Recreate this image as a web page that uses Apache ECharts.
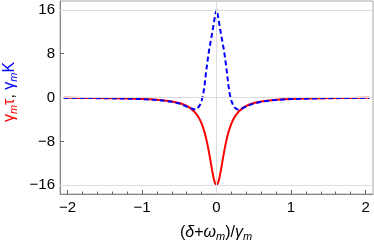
<!DOCTYPE html>
<html><head><meta charset="utf-8">
<script src="https://cdn.jsdelivr.net/npm/echarts@6/dist/echarts.min.js"></script>
<style>html,body{margin:0;padding:0;background:#fff}#c{width:374px;height:245px}</style>
</head><body><div id="c"></div>
<script>
const xValues = [-2.05,-2,-1.8,-1.6,-1.4,-1.2,-1,-0.9,-0.8,-0.7,-0.6,-0.5,-0.45,-0.4,-0.35,-0.3,-0.28,-0.26,-0.24,-0.22,-0.2,-0.18,-0.16,-0.14,-0.12,-0.1,-0.08,-0.06,-0.04,-0.02,0,
  0.02,0.04,0.06,0.08,0.1,0.12,0.14,0.16,0.18,0.2,0.22,0.24,0.26,0.28,0.3,0.35,0.4,0.45,0.5,0.6,0.7,0.8,0.9,1,1.2,1.4,1.6,1.8,2,2.05];
const tauValues = [-0.064,-0.067,-0.083,-0.105,-0.14,-0.19,-0.27,-0.33,-0.41,-0.53,-0.72,-1.01,-1.23,-1.53,-1.94,-2.53,-2.84,-3.2,-3.63,-4.14,-4.75,-5.48,-6.36,-7.41,-8.64,-10.05,-11.6,-13.19,-14.62,-15.63,-16,
  -15.63,-14.62,-13.19,-11.6,-10.05,-8.64,-7.41,-6.36,-5.48,-4.75,-4.14,-3.63,-3.2,-2.84,-2.53,-1.94,-1.53,-1.23,-1.01,-0.72,-0.53,-0.41,-0.33,-0.27,-0.19,-0.14,-0.105,-0.083,-0.067,-0.064];
const kValues = [-0.072,-0.075,-0.095,-0.12,-0.155,-0.21,-0.29,-0.36,-0.45,-0.58,-0.78,-1.1,-1.35,-1.65,-1.95,-2.15,-2.2,-2.1,-1.8,-1.3,-0.6,0.5,2.2,4.6,6.7,8.6,10.1,11.6,13.2,14.9,16,
  14.9,13.2,11.6,10.1,8.6,6.7,4.6,2.2,0.5,-0.6,-1.3,-1.8,-2.1,-2.2,-2.15,-1.95,-1.65,-1.35,-1.1,-0.78,-0.58,-0.45,-0.36,-0.29,-0.21,-0.155,-0.12,-0.095,-0.075,-0.072];
const xMajorTicks = [-2,-1,0,1,2];
const xMinorTicks = [-2,-1.8,-1.6,-1.4,-1.2,-1,-0.8,-0.6,-0.4,-0.2,0,0.2,0.4,0.6,0.8,1,1.2,1.4,1.6,1.8,2];
const yMajorTicks = [-16,-8,0,8,16];
const yGridLines = [-16,0,16];
const xGridLines = [0];

const FONT = 'Liberation Sans, Arial, sans-serif';
const fmt = v => (v < 0 ? '\u2212' + Math.abs(v) : String(v));
const chart = echarts.init(document.getElementById('c'), null, {renderer:'canvas'});
chart.setOption({
  animation:false,
  grid:{left:60,right:1,top:1,bottom:51,show:true,borderColor:'#a8a8a8',borderWidth:1},
  xAxis:[{
    type:'value',min:-2.1,max:2.1,position:'bottom',
    axisLine:{show:true,onZero:false,lineStyle:{color:'#888',width:1}},
    axisTick:{show:true,inside:true,length:4,customValues:xMajorTicks,lineStyle:{color:'#666'}},
    axisLabel:{customValues:xMajorTicks,formatter:fmt,color:'#000',fontFamily:FONT,fontSize:15,margin:6},
    splitLine:{show:false}
  },{
    type:'value',min:-2.1,max:2.1,position:'bottom',
    axisLine:{show:false,onZero:false},
    axisTick:{show:true,inside:true,length:2.5,customValues:xMinorTicks,lineStyle:{color:'#666'}},
    axisLabel:{show:false},splitLine:{show:false}
  }],
  yAxis:{
    type:'value',min:-17.6,max:17.6,position:'left',
    axisLine:{show:true,onZero:false,lineStyle:{color:'#888',width:1}},
    axisTick:{show:true,inside:true,length:4,customValues:yMajorTicks,lineStyle:{color:'#666'}},
    axisLabel:{customValues:yMajorTicks,formatter:fmt,color:'#000',fontFamily:FONT,fontSize:15,margin:5},
    splitLine:{show:false}
  },
  series:[
    {type:'line',data:[],silent:true,z:1,
     markLine:{silent:true,symbol:'none',label:{show:false},animation:false,
       lineStyle:{color:'#dcdcdc',width:1,type:'solid'},
       data:yGridLines.map(v=>({yAxis:v})).concat(xGridLines.map(v=>({xAxis:v})))}},
    {type:'line',data:xValues.map((x,i)=>[x,tauValues[i]]),showSymbol:false,
     lineStyle:{color:'#ff0000',width:2},z:3},
    {type:'line',data:xValues.map((x,i)=>[x,kValues[i]]),showSymbol:false,
     lineStyle:{color:'#0000ff',width:2,type:[5,3]},z:4}
  ],
  graphic:[
    {type:'text',x:10,y:92,rotation:Math.PI/2,
     style:{text:'{r|γ}{rs|m}{r|τ}{k|, }{b|γ}{bs|m}{b|K}',align:'center',verticalAlign:'middle',
       rich:{
         r:{fill:'#ff0000',fontFamily:FONT,fontSize:16,lineHeight:18,verticalAlign:'middle'},
         rs:{fill:'#ff0000',fontFamily:FONT,fontSize:11,fontStyle:'italic',lineHeight:18,verticalAlign:'bottom'},
         k:{fill:'#000',fontFamily:FONT,fontSize:16,lineHeight:18,verticalAlign:'middle'},
         b:{fill:'#0000ff',fontFamily:FONT,fontSize:16,lineHeight:18,verticalAlign:'middle'},
         bs:{fill:'#0000ff',fontFamily:FONT,fontSize:11,fontStyle:'italic',lineHeight:18,verticalAlign:'bottom'}
       }}},
    {type:'text',x:216,y:233,
     style:{text:'{n|(}{i|δ}{n|+}{i|ω}{s|m}{n|)/}{i|γ}{s|m}',align:'center',verticalAlign:'middle',
       rich:{
         n:{fill:'#000',fontFamily:FONT,fontSize:16,lineHeight:18,verticalAlign:'middle'},
         i:{fill:'#000',fontFamily:FONT,fontSize:16,fontStyle:'italic',lineHeight:18,verticalAlign:'middle'},
         s:{fill:'#000',fontFamily:FONT,fontSize:11,fontStyle:'italic',lineHeight:18,verticalAlign:'bottom'}
       }}}
  ]
});
</script></body></html>
